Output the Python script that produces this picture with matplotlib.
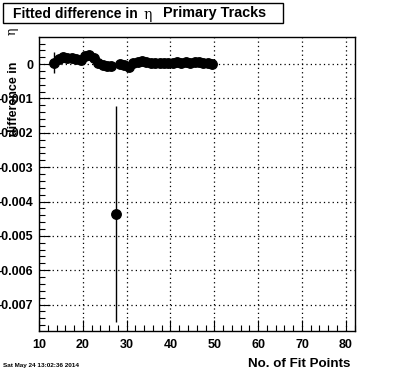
import matplotlib
matplotlib.use("Agg")
import matplotlib.pyplot as plt
from matplotlib.patches import Rectangle
from matplotlib.ticker import MultipleLocator
import numpy as np

# ---- data ----
fit_points = [13.5, 14.5, 15.5, 16.5, 17.5, 18.5, 19.5, 20.5, 21.5, 22.5,
              23.5, 24.5, 25.5, 26.5, 28.5, 29.5, 30.5, 31.5, 32.5, 33.5,
              34.5, 35.5, 36.5, 37.5, 38.5, 39.5, 40.5, 41.5, 42.5, 43.5,
              44.5, 45.5, 46.5, 47.5, 48.5, 49.5]
eta_diff = [0.00004, 0.00014, 0.00020, 0.00019, 0.00018, 0.00016, 0.00012, 0.00024, 0.00027, 0.00017,
            0.00004, -0.00003, -0.00005, -0.00006, 0.00000, -0.00003, -0.00008, 0.00002, 0.00007, 0.00010,
            0.00007, 0.00004, 0.00002, 0.00004, 0.00004, 0.00004, 0.00002, 0.00005, 0.00004, 0.00006,
            0.00004, 0.00005, 0.00005, 0.00004, 0.00004, 0.00000]
eta_err = [0.00031] + [0.00005] * 35
outlier_x = [27.5]
outlier_y = [-0.00436]
outlier_err = [0.00315]

title_left = "Fitted difference in"
title_eta = "η"
title_right = "Primary Tracks"
xlabel = "No. of Fit Points"
ylabel = "difference in"
date_text = "Sat May 24 13:02:36 2014"

W, H = 396, 372
fig = plt.figure(figsize=(W / 100, H / 100), dpi=100)
fig.patch.set_facecolor("white")
ax = fig.add_axes([39 / W, 1 - 331 / H, (355 - 39) / W, (331 - 37) / H])

ax.errorbar(fit_points, eta_diff, yerr=eta_err, fmt="o", color="black",
            ms=6.8, elinewidth=1.0, capsize=0, zorder=3)
ax.errorbar(outlier_x, outlier_y, yerr=outlier_err, fmt="o", color="black",
            ms=6.8, elinewidth=1.0, capsize=0, zorder=3)

ax.set_xlim(10, 82.1)
ax.set_ylim(-0.00777, 0.00079)
ax.xaxis.set_major_locator(MultipleLocator(10))
ax.xaxis.set_minor_locator(MultipleLocator(2))
ax.yaxis.set_major_locator(MultipleLocator(0.001))
ax.yaxis.set_minor_locator(MultipleLocator(0.0002))
ax.grid(True, which="major", color="black", linestyle=(0, (1, 2.5)), linewidth=0.9)
ax.tick_params(which="both", direction="in", top=False, right=False, width=0.8)
ax.tick_params(which="major", length=8)
ax.tick_params(which="minor", length=4)
for s in ax.spines.values():
    s.set_linewidth(1.0)

def yfmt(v):
    if abs(v) < 1e-12:
        return "0"
    return ("%.3f" % v)

ax.set_yticks(ax.get_yticks())
ax.set_ylim(-0.00777, 0.00079)
ax.set_yticklabels([yfmt(v) for v in ax.get_yticks()])
ax.set_xticks(ax.get_xticks())
ax.set_xlim(10, 82.1)
ax.set_xticklabels(["%d" % v for v in ax.get_xticks()])
for lbl in ax.get_xticklabels() + ax.get_yticklabels():
    lbl.set_fontfamily("Liberation Sans")
    lbl.set_fontweight("bold")
    lbl.set_fontsize(9)
ax.tick_params(axis="y", pad=4)
ax.tick_params(axis="x", pad=6)

# title box
fig.patches.append(Rectangle((3 / W, 1 - 23 / H), (283 - 3) / W, 20 / H,
                             transform=fig.transFigure, fill=False,
                             edgecolor="black", linewidth=1.0))
fig.text(13 / W, 1 - 13.5 / H, title_left, fontfamily="Liberation Sans",
         fontweight="bold", fontsize=10, ha="left", va="center")
fig.text(148 / W, 1 - 14.5 / H, title_eta, fontfamily="DejaVu Serif",
         fontsize=10, ha="center", va="center")
fig.text(163 / W, 1 - 13.5 / H, title_right, fontfamily="Liberation Sans",
         fontweight="bold", fontsize=10.4, ha="left", va="center")

# y label
fig.text(14 / W, 1 - 62 / H, ylabel, fontfamily="Liberation Sans",
         fontweight="bold", fontsize=9, rotation=90, ha="center", va="top")
fig.text(12 / W, 1 - 28 / H, title_eta, fontfamily="DejaVu Serif",
         fontsize=9, rotation=90, ha="center", va="top")

# x label
fig.text(350 / W, 1 - 364 / H, xlabel, fontfamily="Liberation Sans",
         fontweight="bold", fontsize=9.6, ha="right", va="center")

# date
fig.text(3 / W, 1 - 365 / H, date_text, fontfamily="Liberation Sans",
         fontweight="bold", fontsize=4.6, ha="left", va="center")

fig.savefig("out.png", dpi=100)
